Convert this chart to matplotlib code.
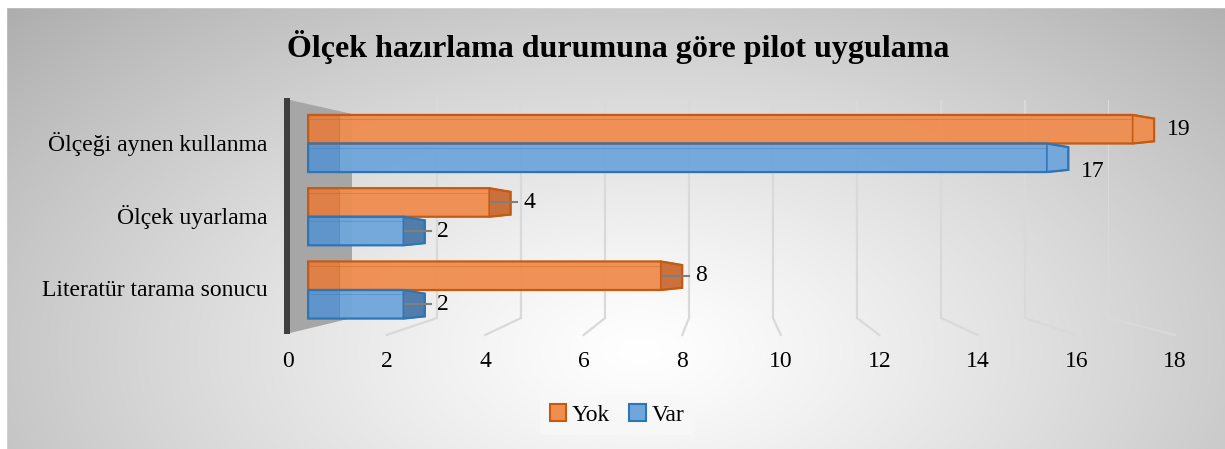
import numpy as np
import matplotlib
matplotlib.use("Agg")
import matplotlib.pyplot as plt
from matplotlib.patches import Polygon, Rectangle, Patch

# ---------------- data ----------------
title = "Ölçek hazırlama durumuna göre pilot uygulama"
categories = ["Ölçeği aynen kullanma", "Ölçek uyarlama", "Literatür tarama sonucu"]
series_names = ["Yok", "Var"]
yok_values = [19, 4, 8]
var_values = [17, 2, 2]
tick_values = [0, 2, 4, 6, 8, 10, 12, 14, 16, 18]

plt.rcParams['font.family'] = ['Liberation Serif', 'DejaVu Serif']

W, H = 1225, 449
fig = plt.figure(figsize=(W / 100, H / 100), dpi=100)

# ---------------- background (pixel coordinates) ----------------
bg = fig.add_axes([0, 0, 1, 1])
bg.set_xlim(0, W)
bg.set_ylim(H, 0)
bg.axis('off')
yy, xx = np.mgrid[0:H, 0:W]
d = np.sqrt(((xx - 640) / 760.0) ** 2 + ((yy - 350) / 430.0) ** 2)
val = 1.0 - 0.27 * np.clip(d, 0, 1.2) ** 1.2
img = np.dstack([val, val, val])
bg.imshow(img, extent=(0, W, H, 0), zorder=0, aspect='auto')
bg.add_patch(Rectangle((0, 0), W, 7, color='white', zorder=1))
bg.add_patch(Rectangle((0, 0), 6, H, color='white', zorder=1))

def fx(px):
    return px / W

def fy(py):
    return 1 - py / H

# ---------------- back wall axes (gridlines) ----------------
top_px, bot_px = 100, 318
ax_back = fig.add_axes([fx(353), fy(bot_px), fx(1109) - fx(353), fy(top_px) - fy(bot_px)])
ax_back.set_xlim(0, 18)
ax_back.set_ylim(0, 1)
ax_back.axis('off')
ax_back.patch.set_alpha(0)
for k in tick_values[1:]:
    ax_back.plot([k, k], [0, 1], color='#d9d9d9', lw=1.6, zorder=1)

# ---------------- front axis (tick labels) ----------------
ax_front = fig.add_axes([fx(288), fy(334), fx(1175) - fx(288), 0.001])
ax_front.set_xlim(0, 18)
ax_front.set_xticks(tick_values)
ax_front.set_xticklabels([str(t) for t in tick_values], fontsize=17)
ax_front.tick_params(axis='x', length=0, pad=12)
ax_front.set_yticks([])
for s in ax_front.spines.values():
    s.set_visible(False)
ax_front.patch.set_alpha(0)

# floor diagonals connecting back gridlines to front ticks
fig.canvas.draw()
inv = bg.transData.inverted()
for k in tick_values[1:]:
    b = inv.transform(ax_back.transData.transform((k, 0)))
    f = inv.transform(ax_front.transData.transform((k, 0)))
    bg.plot([b[0], f[0]], [b[1], f[1] + 1], color='#d9d9d9', lw=1.6, zorder=2)

# side wall and dark axis wall
bg.add_patch(Polygon([(290, 100), (352, 114), (352, 318), (290, 333)],
                     closed=True, facecolor='#a6a6a6', edgecolor='none', zorder=2))
bg.add_patch(Rectangle((284, 98), 6, 236, facecolor='#3f3f3f', edgecolor='none', zorder=3))

# ---------------- bars axes ----------------
ax = fig.add_axes([fx(300), fy(340), fx(1200) - fx(300), fy(90) - fy(340)])
ax.set_xlim((300 - 339) / 42.9, (1200 - 339) / 42.9)
ax.set_ylim(2 + (340 - 290) / 73.25, -(143.5 - 90) / 73.25)
ax.axis('off')
ax.patch.set_alpha(0)

bar_h = 0.39
depth = 0.72   # visible left depth of the 3D bars
cap = 0.5      # visible end-cap of the 3D bars
styles = {
    "Yok": dict(face='#F08D4F', left='#E27E42', cap='#C96A31', edge='#C55A11'),
    "Var": dict(face='#6FA6DB', left='#5C95CF', cap='#4A77A8', edge='#2E75B6'),
}
label_dy = {("Var", 0): 10}

for si, (name, vals) in enumerate(zip(series_names, [yok_values, var_values])):
    st = styles[name]
    for ci, v in enumerate(vals):
        yc = ci - bar_h / 2 + si * bar_h  # Yok on top, Var below
        y0 = yc - bar_h / 2
        ax.add_patch(Rectangle((0, y0), v - cap, bar_h, facecolor=st['face'],
                               edgecolor='none', alpha=0.95, zorder=3))
        ax.add_patch(Rectangle((-depth, y0), depth, bar_h, facecolor=st['left'],
                               edgecolor='none', alpha=0.95, zorder=3))
        ax.add_patch(Polygon([(v - cap, y0), (v, y0 + 0.05), (v, y0 + bar_h - 0.03),
                              (v - cap, y0 + bar_h)], closed=True,
                             facecolor=st['cap'] if v < 10 else st['face'],
                             edgecolor=st['edge'], lw=1.2, alpha=0.95, zorder=4))
        ax.add_patch(Polygon([(-depth, y0), (v - cap, y0), (v, y0 + 0.05),
                              (v, y0 + bar_h - 0.03), (v - cap, y0 + bar_h),
                              (-depth, y0 + bar_h)], closed=True, facecolor='none',
                             edgecolor=st['edge'], lw=1.6, zorder=5))
        ax.plot([0, 0], [y0 + 0.02, y0 + bar_h - 0.02], color=st['edge'], lw=0.6,
                alpha=0.5, zorder=5)
        ax.plot([-depth + 0.05, v - cap], [y0 + 0.06, y0 + 0.06], color=st['edge'],
                lw=0.6, alpha=0.4, zorder=5)
        if v < 10:
            ax.plot([v - cap * 0.9, v + 0.15], [yc, yc], color='#7f7f7f', lw=1.5, zorder=6)
        ax.annotate(str(v), xy=(v, yc), xytext=(9, -label_dy.get((name, ci), 0)),
                    textcoords='offset points', ha='left', va='center', fontsize=17,
                    color='black', zorder=7)

# category labels
for ci, c in enumerate(categories):
    ax.annotate(c, xy=(-depth, ci), xytext=(-29, 0), textcoords='offset points',
                ha='right', va='center', fontsize=17, color='black', annotation_clip=False)

# title
fig.text(fx(618), fy(47), title, ha='center', va='center', fontsize=23,
         fontweight='bold', color='black')

# legend
handles = [Patch(facecolor=styles[n]['face'], edgecolor=styles[n]['edge'], lw=1.5)
           for n in series_names]
leg = fig.legend(handles, series_names, loc='center', bbox_to_anchor=(fx(617), fy(415)),
                 ncol=2, fontsize=17, frameon=True, handlelength=0.7, handleheight=0.7,
                 handletextpad=0.25, columnspacing=0.8, borderpad=0.4, fancybox=False)
leg.get_frame().set_facecolor('#f8f8f8')
leg.get_frame().set_edgecolor('none')

fig.savefig('out.png', dpi=100)
